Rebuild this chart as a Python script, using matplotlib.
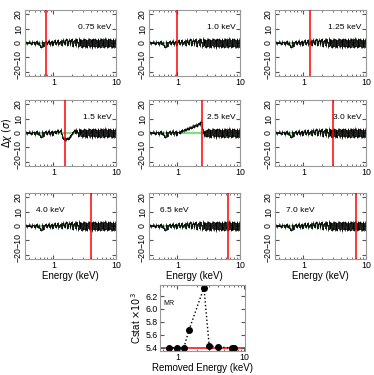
import matplotlib
matplotlib.use('Agg')
import matplotlib.pyplot as plt
import numpy as np

plt.rcParams['font.family'] = ['Liberation Sans', 'DejaVu Sans']
plt.rcParams['mathtext.fontset'] = 'dejavusans'

# energy grid of the residual spectra (keV)
energy_lo = [0.36, 0.38, 0.40, 0.42, 0.44, 0.46, 0.48, 0.50, 0.52, 0.54, 0.56, 0.58, 0.60,
             0.63, 0.66, 0.69, 0.72, 0.75, 0.78, 0.81, 0.84, 0.87, 0.90, 0.93, 0.96, 1.00]
energy_mid = [1.04, 1.08, 1.12, 1.16, 1.20, 1.25, 1.30, 1.35, 1.40, 1.45, 1.50, 1.55, 1.60,
              1.66, 1.72, 1.78, 1.84, 1.90, 1.97, 2.04, 2.11, 2.18, 2.25, 2.33, 2.41, 2.49,
              2.57, 2.65, 2.74, 2.83, 2.92]
energy_hi = [3.01, 3.11, 3.21, 3.31, 3.42, 3.53, 3.64, 3.76, 3.88, 4.00, 4.13, 4.26, 4.40,
             4.54, 4.68, 4.83, 4.98, 5.14, 5.30, 5.47, 5.64, 5.82, 6.00, 6.19, 6.38, 6.58,
             6.79, 7.00, 7.22, 7.45, 7.68, 7.92, 8.17, 8.43, 8.69, 8.96, 9.24, 9.53, 9.83]

# residuals (sigma)
resid_lo = [0.5, -0.3, 0.8, 0.2, -0.6, 1.0, 0.4, -0.8, 0.6, 1.2, -0.4, 0.3, -1.5,
            -2.6, 0.9, -1.8, 0.7, 1.4, -0.5, 0.8, 1.6, -0.9, 0.4, 1.1, -1.2, 0.6]
resid_mid = [1.8, -0.7, 0.9, 2.1, -1.0, 0.5, 1.7, -1.4, 2.3, 0.8, -0.6, 1.9, 2.6,
             -1.1, 1.2, 2.4, -0.8, 1.5, 2.8, -2.0, 1.1, 2.2, -1.6, 2.5, 1.0, -2.4,
             2.9, -1.3, 2.0, -2.6, 2.2]
resid_mid_15 = [1.2, 0.3, 1.5, 2.0, 0.6, 1.4, 2.2, -1.0, -3.2, -4.0, -4.6, -3.8, -4.4,
                -3.5, -4.1, -3.0, -2.4, -1.5, -0.6, 0.4, 1.5, 2.0, 0.2, 2.3, 1.0, -1.8,
                2.6, -1.0, 1.9, -2.2, 2.0]
resid_mid_25 = [1.0, 0.2, 1.2, 1.8, 1.5, 2.0, 2.6, 2.2, 3.0, 3.4, 2.8, 3.8, 4.2,
                3.6, 4.5, 5.0, 4.4, 5.4, 5.8, 5.2, 6.2, 6.8, 6.0, 7.4, 8.0, 3.0,
                0.5, -1.5, 1.2, -2.0, 1.8]
resid_hi = [-1.9, 2.6, -2.2, 1.8, -2.7, 2.4, -1.5, 2.8, -2.3, 2.0, -2.9, 2.5, -1.8,
            2.7, -2.4, 1.9, -2.6, 2.8, -2.0, 2.3, -2.8, 2.6, -1.7, 2.4, -2.5, 2.9,
            -2.1, 2.2, -2.7, 2.5, -1.9, 2.7, -2.4, 2.1, -2.8, 2.6, -2.2, 2.3, -2.5]

removed = [0.75, 1.0, 1.25, 1.5, 2.5, 3.0, 4.0, 6.5, 7.0]
labels = ['0.75 keV', '1.0 keV', '1.25 keV', '1.5 keV', '2.5 keV', '3.0 keV',
          '4.0 keV', '6.5 keV', '7.0 keV']
cstat = [5.40, 5.40, 5.40, 5.68, 6.33, 5.43, 5.41, 5.40, 5.40]
cstat_ref = 5.40

energy = np.array(energy_lo + energy_mid + energy_hi)
base = np.array(resid_lo + resid_mid + resid_hi)
special = {1.5: np.array(resid_lo + resid_mid_15 + resid_hi),
           2.5: np.array(resid_lo + resid_mid_25 + resid_hi)}

fig = plt.figure(figsize=(3.74, 3.75), dpi=100)
W, H = 374.0, 375.0


def add_ax(left, top, w, h):
    return fig.add_axes([left / W, 1 - (top + h) / H, w / W, h / H])


def style(ax):
    for s in ax.spines.values():
        s.set_color('#999999')
        s.set_linewidth(0.8)
    ax.tick_params(which='both', direction='in', top=True, right=True,
                   labelsize=6.3, color='#555555', pad=1.5)
    ax.tick_params(which='major', length=3)
    ax.tick_params(which='minor', length=1.5)


lefts = [25, 149, 275]
tops = [10, 100, 193]
for i, e in enumerate(removed):
    r, c = divmod(i, 3)
    ax = add_ax(lefts[c], tops[r], 91, 66)
    y = special.get(e, base)
    ax.axhline(0, color='#80e080', lw=1.6, zorder=1)
    ax.errorbar(energy, y, yerr=1.0, fmt='none', ecolor='black', elinewidth=0.5, zorder=2)
    ax.plot(energy, y, color='black', lw=0.6, drawstyle='steps-mid', zorder=2)
    ax.axvline(e, color='red', lw=1.1, zorder=3)
    ax.set_xscale('log')
    ax.set_xlim(0.35, 10)
    ax.set_ylim(-23, 23)
    ax.set_yticks([-20, -10, 0, 10, 20])
    ax.set_xticks([1, 10])
    ax.set_xticklabels(['1', '10'])
    style(ax)
    for t in ax.get_yticklabels():
        t.set_rotation(90)
        t.set_va('center')
    if r < 2:
        ax.text(0.95, 0.73, labels[i], transform=ax.transAxes, ha='right', va='center', fontsize=6)
    else:
        ax.text(0.12, 0.73, labels[i], transform=ax.transAxes, ha='left', va='center', fontsize=6)
        ax.set_xlabel('Energy (keV)', fontsize=7, labelpad=1)
    if r == 1 and c == 0:
        ax.set_ylabel(r'$\Delta\chi\ (\sigma)$', fontsize=7, labelpad=0)

ax = add_ax(160, 285, 85, 66)
ax.axhline(cstat_ref, color='red', lw=1.1, zorder=1)
ax.plot(removed, cstat, color='black', ls=':', lw=1.0, marker='o', ms=4, zorder=2)
ax.set_xscale('log')
ax.set_xlim(0.55, 10.3)
ax.set_ylim(5.35, 6.37)
ax.set_yticks([5.4, 5.6, 5.8, 6.0, 6.2])
ax.set_xticks([1, 10])
ax.set_xticklabels(['1', '10'])
style(ax)
ax.text(0.04, 0.72, 'MR', transform=ax.transAxes, ha='left', va='center', fontsize=5)
ax.set_xlabel('Removed Energy (keV)', fontsize=7, labelpad=0.5)
ax.set_ylabel(r'Cstat $\times10^3$', fontsize=7, labelpad=2)

fig.savefig('out.png', dpi=100)
